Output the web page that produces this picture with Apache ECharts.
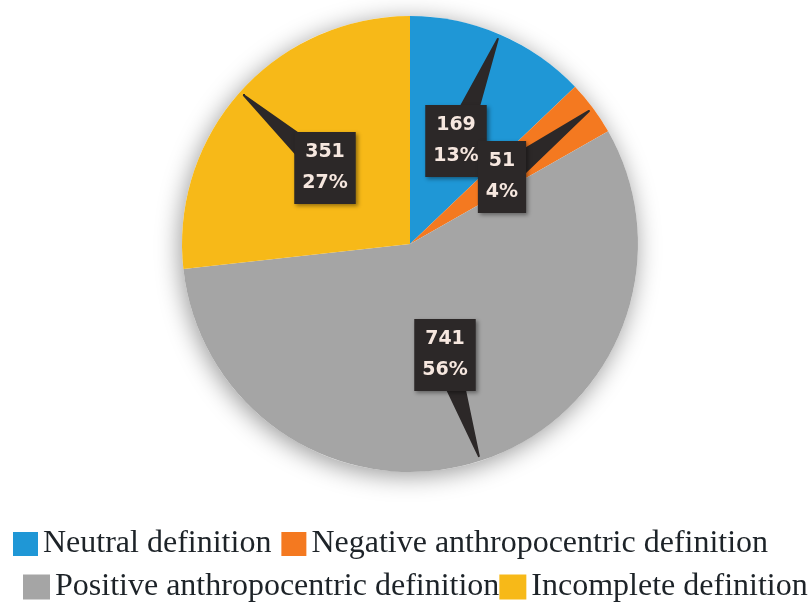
<!DOCTYPE html>
<html>
<head>
<meta charset="utf-8">
<script src="https://cdn.jsdelivr.net/npm/echarts@6/dist/echarts.min.js"></script>
<style>
  html, body { margin: 0; padding: 0; background: #fff; }
  #chart { width: 811px; height: 602px; }
</style>
</head>
<body>
<div id="chart"></div>
<script>
// data
const categories = ['Neutral definition', 'Negative anthropocentric definition', 'Positive anthropocentric definition', 'Incomplete definition'];
const counts = [169, 51, 741, 351];
const colors = ['#1f97d6', '#f47920', '#a5a5a5', '#f7b918'];
const legendRows = [[categories[0], categories[1]], [categories[2], categories[3]]];

// where the dark callout boxes sit (box centre, px)
const calloutSpots = [[456, 141], [502, 177], [445, 355], [325, 168]];

const total = counts.reduce((a, b) => a + b, 0);
const pieCenter = [410, 244];
const pieRadius = 228;

const chart = echarts.init(document.getElementById('chart'));

const option = {
  animation: false,
  legend: legendRows.map((row, i) => ({
    data: row,
    orient: 'horizontal',
    left: [13, 23][i],
    top: [528, 571][i],
    itemWidth: [25, 27][i],
    itemHeight: [24, 25][i],
    itemGap: [10, 0][i],
    icon: 'rect',
    padding: 0,
    selectedMode: false,
    textStyle: {
      fontFamily: 'Liberation Serif',
      fontSize: 32,
      color: '#1d2328'
    }
  })),
  series: [
    {
      // white disc behind the pie, only for the soft shadow
      type: 'pie',
      silent: true,
      z: 1,
      center: pieCenter,
      radius: pieRadius,
      label: { show: false },
      labelLine: { show: false },
      itemStyle: {
        color: '#fff',
        shadowBlur: 24,
        shadowColor: 'rgba(0,0,0,0.4)',
        shadowOffsetX: -2,
        shadowOffsetY: 4
      },
      data: [{ value: 1, name: '' }]
    },
    {
      // the slices
      type: 'pie',
      z: 2,
      center: pieCenter,
      radius: pieRadius,
      startAngle: 90,
      clockwise: true,
      emphasis: { disabled: true },
      label: { show: false },
      labelLine: { show: false },
      data: categories.map((name, i) => ({
        name: name,
        value: counts[i],
        itemStyle: { color: colors[i] }
      }))
    },
    {
      // same slices, invisible, carrying the callouts above the pie
      type: 'pie',
      z: 3,
      silent: true,
      center: pieCenter,
      radius: pieRadius,
      startAngle: 90,
      clockwise: true,
      avoidLabelOverlap: false,
      emphasis: { disabled: true },
      itemStyle: { color: 'rgba(0,0,0,0)' },
      data: categories.map((name, i) => ({ name: name, value: counts[i] })),
      label: {
        show: true,
        position: 'outside',
        formatter: (p) => p.value + '\n' + Math.round(p.value / total * 100) + '%',
        color: '#f6e7df',
        fontFamily: 'DejaVu Sans',
        fontWeight: 'bold',
        fontSize: 19,
        lineHeight: 31,
        backgroundColor: '#2c2828',
        padding: [6, 8, 4, 8],
        shadowBlur: 4,
        shadowColor: 'rgba(0,0,0,0.4)',
        shadowOffsetX: 2,
        shadowOffsetY: 2
      },
      labelLine: {
        show: true,
        length: 10,
        length2: 10,
        smooth: false,
        lineStyle: { color: '#2c2828', width: 2, join: 'round', cap: 'butt' }
      },
      labelLayout: function (p) {
        const c = calloutSpots[p.dataIndex];
        let tip = (p.labelLinePoints && p.labelLinePoints[0]) || c;
        // pull the tip a few px inside the rim
        const rx = tip[0] - pieCenter[0], ry = tip[1] - pieCenter[1];
        const rl = Math.hypot(rx, ry) || 1;
        tip = [tip[0] - rx / rl * 5, tip[1] - ry / rl * 5];
        const dx = c[0] - tip[0], dy = c[1] - tip[1];
        const len = Math.hypot(dx, dy) || 1;
        const nx = -dy / len, ny = dx / len;
        // fan of thin strokes -> a filled wedge pointer
        const pts = [tip];
        for (let k = -13; k <= 13; k += 1.5) {
          pts.push([c[0] + nx * k, c[1] + ny * k]);
          pts.push(tip);
        }
        return {
          x: c[0],
          y: c[1],
          align: 'center',
          verticalAlign: 'middle',
          labelLinePoints: pts
        };
      }
    }
  ]
};

chart.setOption(option);
</script>
</body>
</html>
